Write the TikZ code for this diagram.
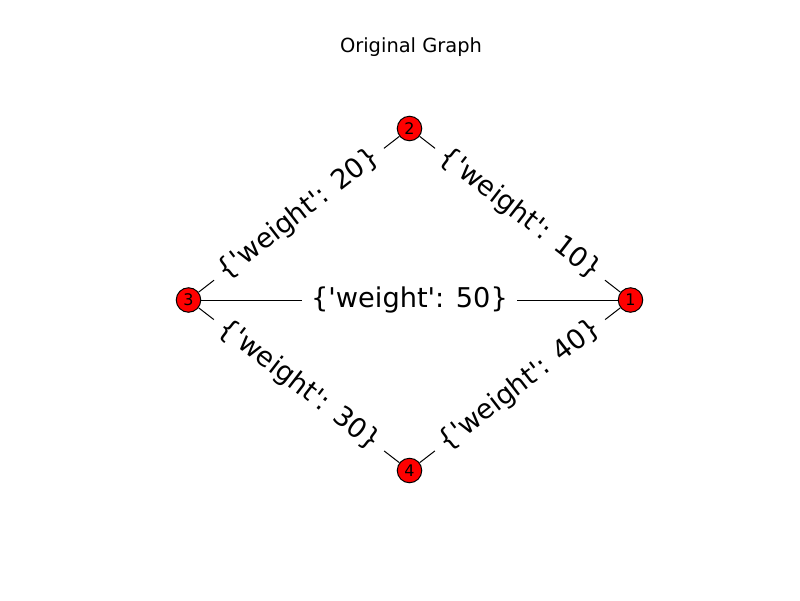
\documentclass[tikz,border=0pt]{standalone}
\usepackage{fontspec}
\newfontfamily\dvfont{DejaVu Sans}
\begin{document}
\begin{tikzpicture}[x=0.72pt,y=-0.72pt,
  vert/.style={circle,draw=black,fill=red,line width=0.72pt,minimum size=24.5*0.72pt,inner sep=0pt,font=\dvfont\fontsize{11.5}{14}\selectfont},
  edge/.style={draw=black,line width=0.72pt},
  wlabel/.style={fill=white,inner xsep=6.5pt,inner ysep=2pt,sloped,midway,font=\dvfont\fontsize{19.6}{24}\selectfont},
  ttl/.style={font=\dvfont\fontsize{14}{17}\selectfont}]
\useasboundingbox (0,0) rectangle (800,600);
\node[ttl] (title) at (411,47) {Original Graph};
\node[vert] (n1) at (630.5,300) {1};
\node[vert] (n2) at (409.5,128.5) {2};
\node[vert] (n3) at (188.5,300) {3};
\node[vert] (n4) at (409.5,470.5) {4};
\draw[edge] (n3) -- node[wlabel] (l32) {\{'weight': 20\}} (n2);
\draw[edge] (n2) -- node[wlabel] (l21) {\{'weight': 10\}} (n1);
\draw[edge] (n3) -- node[wlabel] (l31) {\{'weight': 50\}} (n1);
\draw[edge] (n3) -- node[wlabel] (l34) {\{'weight': 30\}} (n4);
\draw[edge] (n4) -- node[wlabel] (l41) {\{'weight': 40\}} (n1);
\end{tikzpicture}
\end{document}
